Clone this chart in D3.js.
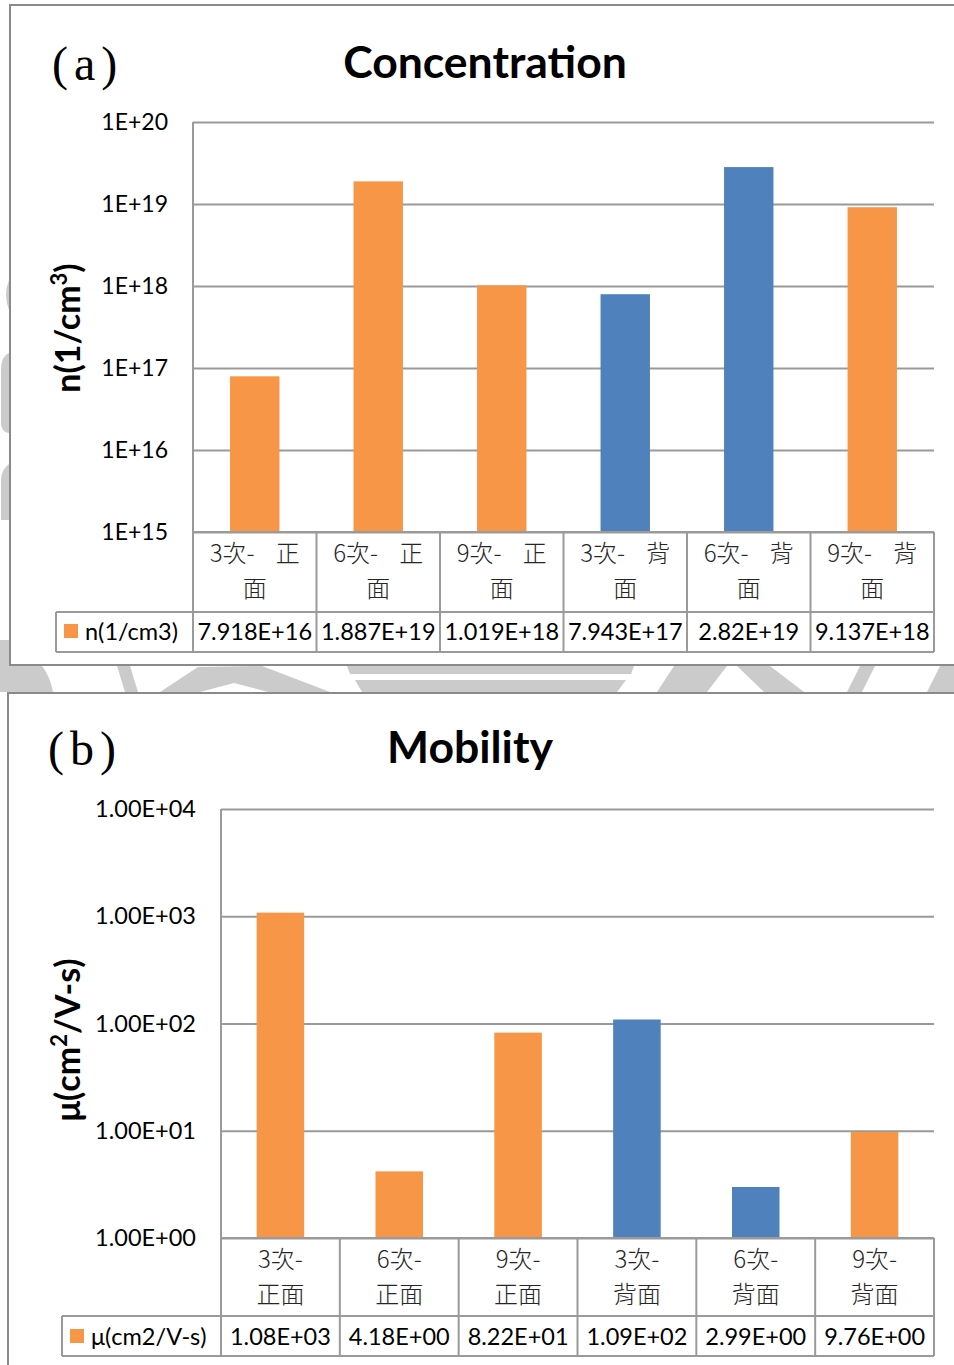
<!DOCTYPE html>
<html>
<head>
<meta charset="utf-8">
<script src="https://cdn.jsdelivr.net/npm/d3@7"></script>
<style>
  html, body { margin: 0; padding: 0; background: #ffffff; }
  svg { display: block; }
</style>
</head>
<body>
<svg id="fig" width="954" height="1365"></svg>
<script>
// ---- data ----
const runs = ["3次-", "6次-", "9次-", "3次-", "6次-", "9次-"];
const sides = ["正面", "正面", "正面", "背面", "背面", "背面"];
const categories = runs.map((r, i) => r + sides[i]);

const concentration = [7.918e16, 1.887e19, 1.019e18, 7.943e17, 2.82e19, 9.137e18];
const concentrationText = ["7.918E+16", "1.887E+19", "1.019E+18", "7.943E+17", "2.82E+19", "9.137E+18"];
const concentrationTicks = [1e15, 1e16, 1e17, 1e18, 1e19, 1e20];
const concentrationTickText = ["1E+15", "1E+16", "1E+17", "1E+18", "1E+19", "1E+20"];

const mobility = [1080, 4.18, 82.2, 109, 2.99, 9.76];
const mobilityText = ["1.08E+03", "4.18E+00", "8.22E+01", "1.09E+02", "2.99E+00", "9.76E+00"];
const mobilityTicks = [1, 10, 100, 1000, 10000];
const mobilityTickText = ["1.00E+00", "1.00E+01", "1.00E+02", "1.00E+03", "1.00E+04"];

const barColors = ["#F79646", "#F79646", "#F79646", "#4F81BD", "#4F81BD", "#F79646"];
const legendColor = "#F79646";

const LAT = "Lato, 'Open Sans', sans-serif";
const CJK = "'Noto Sans CJK TC', 'Noto Sans CJK SC', sans-serif";
const GRID = "#9a9a9a";

const svg = d3.select("#fig");

// ---- background emblem fragments showing between the two frames ----
const emblem = svg.append("g").attr("fill", "#cbcbcb");
[
  "M0,640 L12,640 L12,666 L42,666 Q50,676 53,692 L0,692 Z",
  "M117,666 L130,666 L138,692 L125,692 Z",
  "M160,692 L198,667 L262,666 L330,692 L268,692 L234,683 L200,692 Z",
  "M347,666 L634,666 L631,674 L350,674 Z",
  "M355,680 L626,680 L617,692 L362,692 Z",
  "M657,692 L674,666 L727,666 L707,692 Z",
  "M737,666 L770,666 L804,692 L764,692 Z",
  "M847,692 L860,666 L875,666 L862,692 Z",
  "M927,692 L940,666 L954,666 L954,692 Z",
  "M9,280 Q3,295 9,310 Z",
  "M9,353 Q1,356 1,370 L1,425 Q3,433 9,433 Z",
  "M10,463 Q1,470 1,480 L1,520 L10,520 Z"
].forEach(d => emblem.append("path").attr("d", d));

// ---- one framed chart panel ----
function panel(cfg) {
  const g = svg.append("g");

  g.append("rect")
    .attr("x", cfg.frame[0]).attr("y", cfg.frame[1])
    .attr("width", cfg.frame[2]).attr("height", cfg.frame[3])
    .attr("fill", "#ffffff").attr("stroke", "#8a8a8a").attr("stroke-width", 2);

  const L = cfg.left, R = 934, T = cfg.top, B = cfg.bottom;

  const y = d3.scaleLog().domain(cfg.domain).range([B, T]);
  const x = d3.scaleBand().domain(categories).range([L, R]).paddingInner(0).paddingOuter(0);

  // gridlines + tick labels
  const ax = g.append("g")
    .attr("transform", `translate(${L},0)`)
    .call(d3.axisLeft(y)
      .tickValues(cfg.ticks)
      .tickFormat((d, i) => cfg.tickText[i])
      .tickSize(-(R - L))
      .tickPadding(cfg.tickPad));
  ax.select(".domain").remove();
  ax.selectAll(".tick line").attr("stroke", GRID).attr("stroke-width", 2);
  ax.selectAll(".tick text")
    .attr("font-family", LAT).attr("font-size", cfg.tickSize).attr("fill", "#000");

  // bars
  const bw = x.bandwidth() * 0.4;
  g.append("g").selectAll("rect")
    .data(cfg.values)
    .join("rect")
    .attr("x", (d, i) => x(categories[i]) + (x.bandwidth() - bw) / 2)
    .attr("width", bw)
    .attr("y", d => y(d))
    .attr("height", d => B - y(d))
    .attr("fill", (d, i) => barColors[i]);

  // data table grid
  const rowTop = B, rowMid = cfg.rowMid, rowBot = cfg.rowBot;
  const lines = g.append("g").attr("stroke", GRID).attr("stroke-width", 2).attr("fill", "none");
  lines.append("line").attr("x1", L).attr("x2", L).attr("y1", T).attr("y2", rowBot);
  lines.append("line").attr("x1", L).attr("x2", R).attr("y1", rowTop).attr("y2", rowTop);
  lines.append("line").attr("x1", cfg.legendLeft).attr("x2", R).attr("y1", rowMid).attr("y2", rowMid);
  lines.append("line").attr("x1", cfg.legendLeft).attr("x2", R).attr("y1", rowBot).attr("y2", rowBot);
  lines.append("line").attr("x1", cfg.legendLeft).attr("x2", cfg.legendLeft).attr("y1", rowMid).attr("y2", rowBot);
  categories.forEach(c => {
    const xe = x(c) + x.bandwidth();
    lines.append("line").attr("x1", xe).attr("x2", xe).attr("y1", rowTop).attr("y2", rowBot);
  });

  // category labels (two lines)
  categories.forEach((c, i) => {
    const cx = x(c) + x.bandwidth() / 2;
    const lbl = cfg.labelLines(i);
    lbl.forEach((t, k) => {
      g.append("text")
        .attr("x", cx).attr("y", cfg.labelY[k])
        .attr("text-anchor", "middle")
        .attr("xml:space", "preserve")
        .attr("font-family", CJK).attr("font-weight", 300)
        .attr("font-size", 24).attr("fill", "#262626")
        .text(t);
    });
  });

  // value row
  cfg.valueText.forEach((t, i) => {
    g.append("text")
      .attr("x", x(categories[i]) + x.bandwidth() / 2).attr("y", cfg.valueY)
      .attr("text-anchor", "middle")
      .attr("font-family", LAT).attr("font-size", 23.5).attr("fill", "#000")
      .text(t);
  });

  // legend key in the table
  g.append("rect")
    .attr("x", cfg.legendLeft + 8).attr("y", cfg.valueY - 16)
    .attr("width", 14).attr("height", 14).attr("fill", legendColor);
  g.append("text")
    .attr("x", cfg.legendLeft + 29).attr("y", cfg.valueY)
    .attr("font-family", LAT).attr("font-size", 23.5).attr("fill", "#000")
    .text(cfg.seriesName);

  // panel letter
  g.append("text")
    .attr("x", cfg.letterX).attr("y", cfg.titleY + 2)
    .attr("font-family", "'Liberation Serif', serif").attr("font-size", 48)
    .attr("letter-spacing", 6)
    .text(cfg.letter);

  // title
  g.append("text")
    .attr("x", cfg.titleX).attr("y", cfg.titleY)
    .attr("text-anchor", "middle")
    .attr("font-family", LAT).attr("font-weight", "bold").attr("font-size", 44.5)
    .text(cfg.title);

  // y-axis title
  const yt = g.append("text")
    .attr("transform", `translate(${cfg.yTitleX},${cfg.yTitleY}) rotate(-90)`)
    .attr("text-anchor", "middle")
    .attr("font-family", LAT).attr("font-weight", "bold").attr("font-size", 34);
  yt.append("tspan").text(cfg.yTitle[0]);
  yt.append("tspan").attr("font-size", 22).attr("baseline-shift", "super").text(cfg.yTitle[1]);
  yt.append("tspan").text(cfg.yTitle[2]);
}

panel({
  frame: [10, 5, 960, 660],
  left: 193, top: 122, bottom: 532,
  domain: [1e15, 1e20],
  ticks: concentrationTicks, tickText: concentrationTickText,
  tickSize: 23, tickPad: 25,
  values: concentration, valueText: concentrationText,
  rowMid: 612, rowBot: 652, legendLeft: 56,
  labelLines: i => [runs[i] + "    " + sides[i][0], sides[i][1]],
  labelY: [562, 597], valueY: 640,
  seriesName: "n(1/cm3)",
  letter: "(a)", letterX: 52, titleX: 485, titleY: 78,
  title: "Concentration",
  yTitle: ["n(1/cm", "3", ")"], yTitleX: 80, yTitleY: 328
});

panel({
  frame: [8, 693, 960, 700],
  left: 221, top: 809, bottom: 1238,
  domain: [1, 1e4],
  ticks: mobilityTicks, tickText: mobilityTickText,
  tickSize: 23.5, tickPad: 25,
  values: mobility, valueText: mobilityText,
  rowMid: 1316, rowBot: 1356, legendLeft: 62,
  labelLines: i => [runs[i], sides[i]],
  labelY: [1268, 1303], valueY: 1345,
  seriesName: "μ(cm2/V-s)",
  letter: "(b)", letterX: 48, titleX: 470, titleY: 763,
  title: "Mobility",
  yTitle: ["μ(cm", "2", "/V-s)"], yTitleX: 80, yTitleY: 1040
});
</script>
</body>
</html>
